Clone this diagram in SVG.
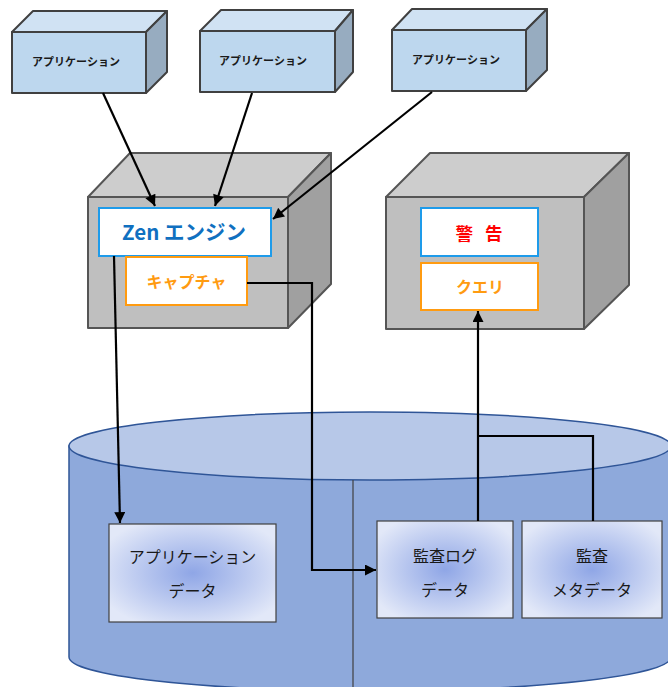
<svg xmlns="http://www.w3.org/2000/svg" width="668" height="687" viewBox="0 0 668 687">
<defs>
<style>
.jp{font-family:"Noto Sans CJK JP","Noto Sans",sans-serif;}
.appf{fill:#BDD7EE;stroke:#404040;stroke-width:2;stroke-linejoin:round;}
.appt{fill:#D0E2F3;stroke:#404040;stroke-width:2;stroke-linejoin:round;}
.apps{fill:#97ACC0;stroke:#404040;stroke-width:2;stroke-linejoin:round;}
.gf{fill:#BFBFBF;stroke:#555555;stroke-width:2;stroke-linejoin:round;}
.gt{fill:#CDCDCD;stroke:#555555;stroke-width:2;stroke-linejoin:round;}
.gs{fill:#A0A0A0;stroke:#555555;stroke-width:2;stroke-linejoin:round;}
.blue{fill:#FFFFFF;stroke:#1E9BEA;stroke-width:2;}
.orng{fill:#FFFFFF;stroke:#FF9B11;stroke-width:2;}
.db{fill:url(#rg);stroke:#404040;stroke-width:1.2;}
.apptext{font-size:11px;font-weight:bold;fill:#1a1a1a;text-anchor:middle;}
.dbtext{font-size:16px;fill:#1a1a1a;text-anchor:middle;}
.conn{fill:none;stroke:#000000;stroke-width:2.2;}
</style>
<radialGradient id="rg" cx="50%" cy="50%" r="60%">
<stop offset="0" stop-color="#8FA6E6"/>
<stop offset="1" stop-color="#E2E8F8"/>
</radialGradient>
<marker id="ah" viewBox="0 0 10 10" refX="10" refY="5" markerWidth="5.5" markerHeight="5" orient="auto" markerUnits="strokeWidth">
<path d="M0,0 L10,5 L0,10 z" fill="#000000"/>
</marker>
</defs>

<g id="database">
<path d="M69,446 L69,657 A301,34 0 0 0 671,657 L671,446 Z" fill="#8EA9DB" stroke="#2F5597" stroke-width="1.5"/>
<ellipse cx="370" cy="446" rx="301" ry="34" fill="#B7C8E8" stroke="#2F5597" stroke-width="1.5"/>
<line x1="353" y1="480" x2="353" y2="687" stroke="#404040" stroke-width="1.2"/>
</g>

<g id="app1">
<polygon class="appt" points="12,32 33,11 167,11 146,32"/>
<polygon class="apps" points="146,32 167,11 167,72 146,93"/>
<rect class="appf" x="12" y="32" width="134" height="61"/>
<text class="jp apptext" x="76" y="66">アプリケーション</text>
</g>
<g id="app2">
<polygon class="appt" points="200,31 221,10 353,10 335,31"/>
<polygon class="apps" points="335,31 353,10 353,72 335,92"/>
<rect class="appf" x="200" y="31" width="135" height="61"/>
<text class="jp apptext" x="263" y="65">アプリケーション</text>
</g>
<g id="app3">
<polygon class="appt" points="392,30 412,9 547,9 526,30"/>
<polygon class="apps" points="526,30 547,9 547,70 526,91"/>
<rect class="appf" x="392" y="30" width="134" height="61"/>
<text class="jp apptext" x="456" y="64">アプリケーション</text>
</g>

<g id="engine-cube">
<polygon class="gt" points="88,197 130,153 331,153 288,197"/>
<polygon class="gs" points="288,197 331,153 331,284 288,328"/>
<rect class="gf" x="88" y="197" width="200" height="131"/>
</g>
<g id="zen-engine">
<rect class="blue" x="99" y="208" width="172" height="48"/>
<text class="jp" x="184" y="240" font-size="20.5" font-weight="bold" fill="#1070C0" text-anchor="middle">Zen エンジン</text>
</g>
<g id="capture">
<rect class="orng" x="126" y="257" width="121" height="48"/>
<text class="jp" x="186.5" y="288" font-size="16" font-weight="bold" fill="#FF9B11" text-anchor="middle">キャプチャ</text>
</g>

<g id="alert-cube">
<polygon class="gt" points="386,197 430,153 629,153 584,197"/>
<polygon class="gs" points="584,197 629,153 629,285 584,329"/>
<rect class="gf" x="386" y="197" width="198" height="132"/>
</g>
<g id="alert">
<rect class="blue" x="421" y="208" width="117" height="48"/>
<text class="jp" x="481" y="240" font-size="17.5" font-weight="bold" fill="#FF0000" text-anchor="middle" letter-spacing="4">警 告</text>
</g>
<g id="query">
<rect class="orng" x="421" y="263" width="117" height="47"/>
<text class="jp" x="480" y="293" font-size="16" font-weight="bold" fill="#FF9B11" text-anchor="middle">クエリ</text>
</g>

<g id="app-data">
<rect class="db" x="109" y="524" width="167" height="98"/>
<text class="jp dbtext" x="192.5" y="563" font-size="15">アプリケーション</text>
<text class="jp dbtext" x="192.5" y="597">データ</text>
</g>
<g id="audit-log">
<rect class="db" x="377" y="521" width="136" height="97"/>
<text class="jp dbtext" x="445" y="562">監査ログ</text>
<text class="jp dbtext" x="445" y="596">データ</text>
</g>
<g id="audit-meta">
<rect class="db" x="522" y="521" width="140" height="97"/>
<text class="jp dbtext" x="592" y="562">監査</text>
<text class="jp dbtext" x="592" y="596">メタデータ</text>
</g>

<g id="connectors">
<line class="conn" x1="103" y1="93" x2="155" y2="206" marker-end="url(#ah)"/>
<line class="conn" x1="252" y1="93" x2="215" y2="206" marker-end="url(#ah)"/>
<line class="conn" x1="432" y1="92" x2="273" y2="219" marker-end="url(#ah)"/>
<line class="conn" x1="114" y1="256" x2="120" y2="523" marker-end="url(#ah)"/>
<polyline class="conn" points="247,283 312,283 312,570 376,570" marker-end="url(#ah)"/>
<line class="conn" x1="478" y1="521" x2="478" y2="311" marker-end="url(#ah)"/>
<polyline class="conn" points="593,521 593,436 478,436"/>
</g>
</svg>
